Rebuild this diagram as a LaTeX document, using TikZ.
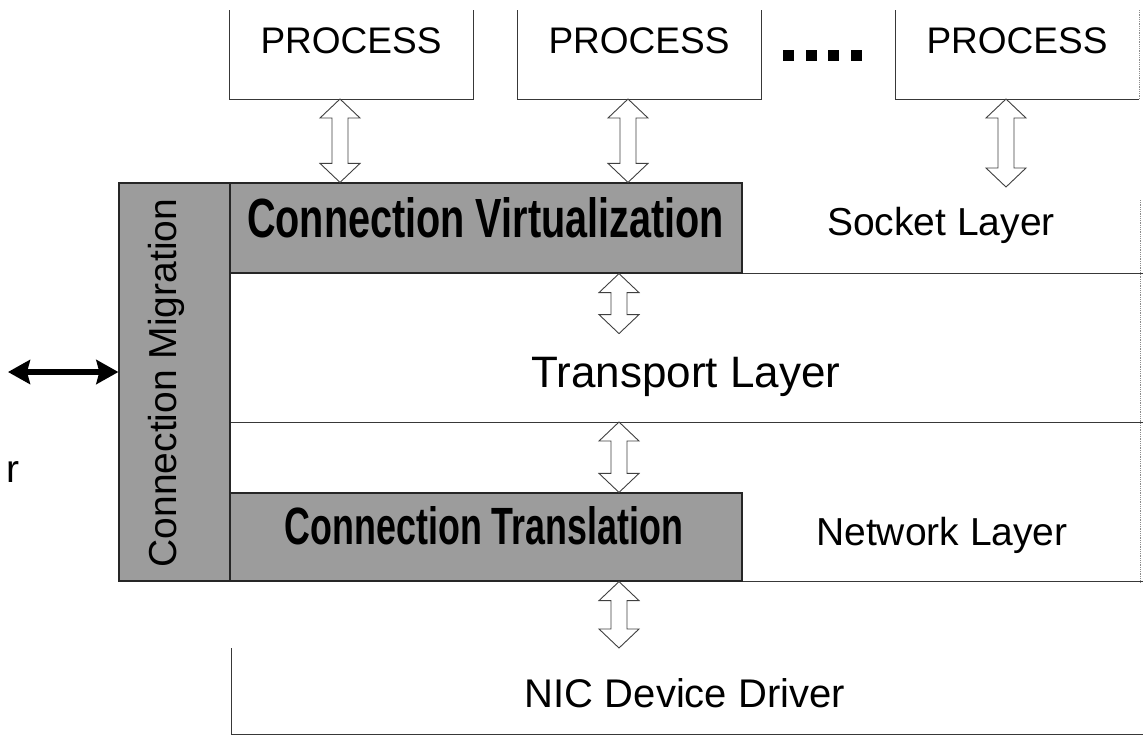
\documentclass[tikz,border=0pt]{standalone}
\usepackage{fontspec}
\usepackage{graphicx}
\setmainfont{Liberation Sans}
\usetikzlibrary{calc,arrows.meta}
\newcommand{\hollowdarrow}[2]{%
  \draw[hollow] (#1) -- ++(20,19) -- ++(-12,0) -- ($(#2)+(8,-19)$) -- ++(12,0) -- (#2)
    -- ++(-20,-19) -- ++(12,0) -- ($(#1)+(-8,19)$) -- ++(-12,0) -- cycle;}
\begin{document}
\begin{tikzpicture}[x=1pt,y=-1pt,
  boxline/.style={line width=1pt, draw=black!78},
  faint/.style={line width=0.8pt, draw=black!45, densely dotted},
  band/.style={draw=black!85, line width=1.2pt, fill=black!39, inner sep=0pt},
  area/.style={inner sep=0pt, outer sep=0pt},
  hollow/.style={draw=black!75, line width=0.9pt, fill=white, line join=miter},
  lbl/.style={inner sep=0pt, anchor=base, font=\fontsize{39}{45}\selectfont},
  proc/.style={inner sep=0pt, anchor=base, font=\fontsize{37}{42}\selectfont},
  bandtxt/.style={inner sep=0pt, anchor=base},
  bigarrow/.style={line width=6pt, {Stealth[length=22pt,width=24pt,inset=3pt]}-{Stealth[length=22pt,width=24pt,inset=3pt]}}
]
\useasboundingbox (0,0) rectangle (1143,737);

% process boxes (top edge cut off)
\node[area, minimum width=244pt, minimum height=89pt] (p1) at (351,54.5) {};
\node[area, minimum width=244pt, minimum height=89pt] (p2) at (639,54.5) {};
\node[area, minimum width=244pt, minimum height=89pt] (p3) at (1017,54.5) {};
\draw[boxline] (p1.north west) -- (p1.south west) -- (p1.south east) -- (p1.north east);
\draw[boxline] (p2.north west) -- (p2.south west) -- (p2.south east) -- (p2.north east);
\draw[boxline] (p3.north west) -- (p3.south west) -- (p3.south east);
\draw[faint] (p3.south east) -- (p3.north east);
\node[proc] (p1t) at (351,53) {PROCESS};
\node[proc] (p2t) at (639,53) {PROCESS};
\node[proc] (p3t) at (1017,53) {PROCESS};
\foreach \x in {783,806,828,851} \fill (\x,50) rectangle ++(11,11);

% layer areas
\node[area, minimum width=401pt, minimum height=90pt] (sock) at (942.5,228) {};
\node[area, minimum width=913pt, minimum height=149pt] (trans) at (686.5,347.5) {};
\node[area, minimum width=913pt, minimum height=159pt] (net) at (686.5,501.5) {};
\node[area, minimum width=912pt, minimum height=86pt] (nic) at (687,691) {};

\draw[boxline] (trans.north west) -- (trans.north east);
\draw[boxline] (trans.south west) -- (trans.south east);
\draw[boxline] (net.south west) -- (net.south east);
\draw[boxline] (nic.north west) -- (nic.south west) -- (nic.south east);
\draw[faint] (1140,200) -- (1140,582);

% gray bands
\node[band, minimum width=111pt, minimum height=398pt] (mig) at (174.5,382) {};
\node[band, minimum width=512pt, minimum height=90pt] (virt) at (486,228) {};
\node[band, minimum width=512pt, minimum height=88pt] (trl) at (486,537) {};

% texts
\node[bandtxt] (virtT) at (485.5,237) {\resizebox{477pt}{40pt}{\bfseries Connection Virtualization}};
\node[bandtxt] (trlT) at (484,544) {\resizebox{398pt}{38pt}{\bfseries Connection Translation}};
\node[lbl, rotate=90] (migT) at (176,383) {Connection Migration};
\node[lbl] (sockT) at (941,235) {Socket Layer};
\node[lbl, font=\fontsize{44}{50}\selectfont] (transT) at (686,387) {Transport Layer};
\node[lbl] (netT) at (942,545) {Network Layer};
\node[lbl, font=\fontsize{40}{46}\selectfont] (nicT) at (685,707) {NIC Device Driver};
\node[lbl, anchor=base east] (rfrag) at (20,482) {r};

% hollow double arrows
\coordinate (a1t) at ($(p1.south)+(-11,0)$);
\coordinate (a1b) at (a1t |- virt.north);
\coordinate (a2t) at ($(p2.south)+(-11,0)$);
\coordinate (a2b) at (a2t |- virt.north);
\coordinate (a3t) at ($(p3.south)+(-11,0)$);
\coordinate (a3b) at ($(a3t |- sock.north)+(0,4)$);
\coordinate (a4t) at ($(virt.south)+(133,0)$);
\coordinate (a4b) at ($(a4t)+(0,60)$);
\coordinate (a5t) at (a4t |- trans.south);
\coordinate (a5b) at (a4t |- trl.north);
\coordinate (a6t) at (a4t |- trl.south);
\coordinate (a6b) at (a4t |- nic.north);
\hollowdarrow{a1t}{a1b}
\hollowdarrow{a2t}{a2b}
\hollowdarrow{a3t}{a3b}
\hollowdarrow{a4t}{a4b}
\hollowdarrow{a5t}{a5b}
\hollowdarrow{a6t}{a6b}

% black double arrow to the migration band
\coordinate (la) at (8,372);
\draw[bigarrow] (la) -- (la -| mig.west);
\end{tikzpicture}
\end{document}
